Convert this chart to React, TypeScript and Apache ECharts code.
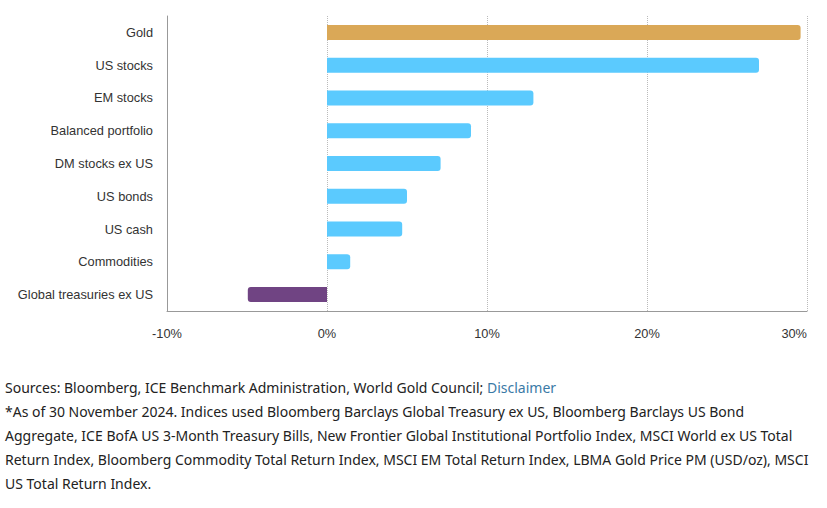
import React, { useEffect, useRef } from "react";
import * as echarts from "echarts";

const categories = [
  "Gold",
  "US stocks",
  "EM stocks",
  "Balanced portfolio",
  "DM stocks ex US",
  "US bonds",
  "US cash",
  "Commodities",
  "Global treasuries ex US",
];
const values = [29.6, 27.0, 12.9, 9.0, 7.1, 5.0, 4.7, 1.45, -4.95];
const barColors = [
  "#DAA857",
  "#5BCAFE",
  "#5BCAFE",
  "#5BCAFE",
  "#5BCAFE",
  "#5BCAFE",
  "#5BCAFE",
  "#5BCAFE",
  "#704483",
];
const axisMin = -10;
const axisMax = 30;
const axisInterval = 10;

export default function App() {
  const ref = useRef<HTMLDivElement>(null);
  useEffect(() => {
    document.body.style.margin = "0";
    if (!ref.current) return;
    const chart = echarts.init(ref.current, null, { renderer: "svg" });
    chart.setOption({
      animation: false,
      grid: { left: 167, right: 20, top: 16, bottom: 39, containLabel: false },
      xAxis: {
        type: "value",
        min: axisMin,
        max: axisMax,
        interval: axisInterval,
        axisLine: { show: true, onZero: false, lineStyle: { color: "#999", width: 1 } },
        axisTick: { show: false },
        axisLabel: {
          formatter: "{value}%",
          color: "#333",
          fontSize: 12.8,
          fontFamily: "Liberation Sans, Arial, sans-serif",
          margin: 16,
          alignMaxLabel: "right",
        },
        splitLine: { show: true, lineStyle: { color: "#bbb", type: "dotted", width: 1 } },
      },
      yAxis: {
        type: "category",
        data: categories,
        inverse: true,
        axisLine: { show: true, onZero: false, lineStyle: { color: "#999", width: 1 } },
        axisTick: { show: false },
        axisLabel: {
          color: "#333",
          fontSize: 12.8,
          fontFamily: "Liberation Sans, Arial, sans-serif",
          margin: 14,
        },
      },
      series: [
        {
          type: "bar",
          barWidth: 15,
          data: values.map((v, i) => ({
            value: v,
            itemStyle: {
              color: barColors[i],
              borderRadius: v >= 0 ? [0, 3, 3, 0] : [3, 0, 0, 3],
            },
          })),
        },
      ],
    });
    return () => chart.dispose();
  }, []);

  const textStyle: React.CSSProperties = {
    fontFamily: "'Noto Sans', 'Open Sans', sans-serif",
    fontSize: 14,
    lineHeight: "24px",
    color: "#222",
  };

  return (
    <div style={{ width: 827, height: 508, position: "relative", background: "#fff" }}>
      <div ref={ref} style={{ width: 827, height: 350 }} />
      <div style={{ position: "absolute", left: 5, top: 376, width: 812, ...textStyle }}>
        <div>
          Sources: Bloomberg, ICE Benchmark Administration, World Gold Council;{" "}
          <span style={{ color: "#3A7AA6" }}>Disclaimer</span>
        </div>
        <div>
          *As of 30 November 2024. Indices used Bloomberg Barclays Global Treasury ex US, Bloomberg Barclays US Bond
          Aggregate, ICE BofA US 3-Month Treasury Bills, New Frontier Global Institutional Portfolio Index, MSCI World
          ex US Total Return Index, Bloomberg Commodity Total Return Index, MSCI EM Total Return Index, LBMA Gold Price
          PM (USD/oz), MSCI US Total Return Index.
        </div>
      </div>
    </div>
  );
}
